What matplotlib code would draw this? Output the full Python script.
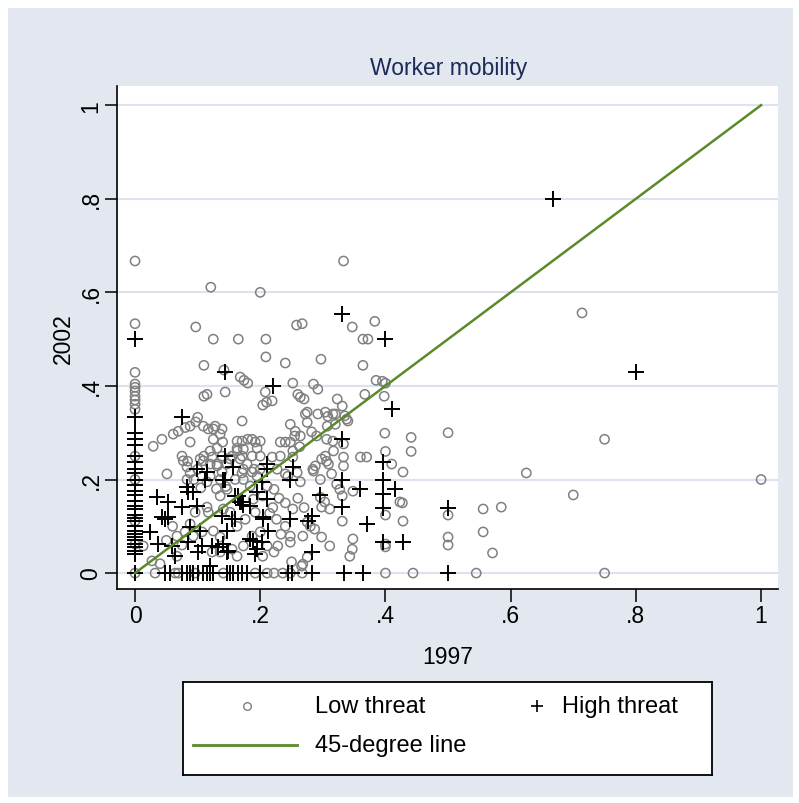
import matplotlib
matplotlib.use("Agg")
import matplotlib.pyplot as plt
from matplotlib.patches import Rectangle

plt.rcParams['font.family'] = ['Liberation Sans', 'DejaVu Sans']

# ---------------- data ----------------
title = "Worker mobility"
x_label = "1997"
y_label = "2002"
tick_values = [0, 0.2, 0.4, 0.6, 0.8, 1.0]
tick_labels = ["0", ".2", ".4", ".6", ".8", "1"]
series_names = ["Low threat", "High threat", "45-degree line"]

# Low threat (share 1997, share 2002)
low_threat = [
    (0, 0.667), (0, 0.533), (0, 0.429), (0, 0.404), (0, 0.397), (0, 0.389), (0, 0.378),
    (0, 0.37), (0, 0.361), (0, 0.35), (0, 0.25), (0, 0.2), (0, 0.111), (0, 0.062), (0, 0.0),
    (0.333, 0.667), (0.121, 0.611), (0.2, 0.6), (0.714, 0.556), (0.347, 0.526), (0.258, 0.53),
    (0.267, 0.533), (0.097, 0.526), (0.125, 0.5), (0.165, 0.5), (0.209, 0.5), (0.364, 0.5),
    (0.372, 0.5), (0.383, 0.538), (0.297, 0.457), (0.24, 0.449), (0.11, 0.444), (0.209, 0.462),
    (0.364, 0.444), (0.385, 0.412), (0.395, 0.41), (0.4, 0.406), (0.168, 0.419), (0.174, 0.412),
    (0.18, 0.406), (0.142, 0.434), (0.252, 0.406), (0.115, 0.382), (0.11, 0.378), (0.264, 0.376),
    (0.27, 0.372), (0.292, 0.393), (0.21, 0.365), (0.204, 0.359), (0.398, 0.378), (0.323, 0.372),
    (0.144, 0.387), (0.219, 0.368), (0.208, 0.387), (0.285, 0.404), (0.367, 0.382),
    (0.399, 0.299), (0.441, 0.29), (0.5, 0.3), (0.4, 0.26), (0.441, 0.26), (0.428, 0.216),
    (0.41, 0.233), (0.427, 0.15), (0.4, 0.124), (0.428, 0.111), (0.4, 0.056), (0.4, 0.0),
    (0.444, 0.0), (0.5, 0.124), (0.5, 0.077), (0.5, 0.06), (0.75, 0.286), (0.625, 0.214),
    (1.0, 0.2), (0.7, 0.167), (0.556, 0.137), (0.585, 0.141), (0.556, 0.088), (0.571, 0.043),
    (0.545, 0.0), (0.75, 0.0), (0.423, 0.152), (0.4, 0.062),
    (0.131, 0.267), (0.139, 0.25), (0.147, 0.233), (0.155, 0.25), (0.163, 0.267), (0.171, 0.25),
    (0.179, 0.233), (0.187, 0.25), (0.195, 0.267), (0.2, 0.25), (0.19, 0.222), (0.171, 0.214),
    (0.16, 0.2), (0.2, 0.222), (0.18, 0.286), (0.14, 0.28), (0.125, 0.286), (0.11, 0.25),
    (0.1, 0.222), (0.094, 0.2), (0.115, 0.195), (0.105, 0.182), (0.13, 0.18), (0.145, 0.185),
    (0.222, 0.045), (0.228, 0.058), (0.25, 0.024), (0.266, 0.015), (0.211, 0.058), (0.204, 0.036),
    (0.2, 0.088), (0.187, 0.079), (0.24, 0.1), (0.233, 0.083),
    (0.013, 0.058), (0.027, 0.026), (0.04, 0.02), (0.067, 0.036), (0.067, 0.079), (0.08, 0.088),
    (0.088, 0.105), (0.093, 0.079), (0.107, 0.088), (0.125, 0.09), (0.136, 0.077), (0.123, 0.045),
    (0.136, 0.045), (0.155, 0.051), (0.163, 0.036), (0.173, 0.058), (0.096, 0.13), (0.115, 0.141),
    (0.117, 0.13), (0.141, 0.137), (0.152, 0.13), (0.163, 0.1), (0.176, 0.115), (0.192, 0.13),
    (0.189, 0.158), (0.204, 0.165), (0.184, 0.186), (0.173, 0.2), (0.195, 0.207), (0.211, 0.186),
    (0.147, 0.179), (0.136, 0.165), (0.051, 0.212), (0.077, 0.24), (0.083, 0.227), (0.109, 0.24),
    (0.12, 0.233), (0.083, 0.2), (0.088, 0.214), (0.12, 0.207), (0.136, 0.2), (0.06, 0.1),
    (0.05, 0.07), (0.075, 0.06),
    (0.032, 0.0), (0.064, 0.0), (0.069, 0.0), (0.096, 0.0), (0.141, 0.0), (0.192, 0.0),
    (0.211, 0.0), (0.222, 0.0), (0.236, 0.0), (0.248, 0.0), (0.267, 0.0),
    (0.029, 0.271), (0.043, 0.286), (0.061, 0.297), (0.069, 0.303), (0.08, 0.311), (0.088, 0.314),
    (0.1, 0.333), (0.097, 0.323), (0.117, 0.308), (0.109, 0.314), (0.128, 0.314), (0.088, 0.28),
    (0.075, 0.25), (0.084, 0.239), (0.104, 0.244), (0.12, 0.261), (0.123, 0.248), (0.131, 0.233),
    (0.171, 0.325), (0.26, 0.382), (0.272, 0.34), (0.248, 0.318), (0.256, 0.303), (0.125, 0.308),
    (0.139, 0.308), (0.136, 0.297), (0.2, 0.282), (0.187, 0.286), (0.192, 0.28), (0.163, 0.282),
    (0.171, 0.282), (0.173, 0.265), (0.163, 0.261), (0.152, 0.244), (0.168, 0.244), (0.232, 0.28),
    (0.24, 0.28), (0.248, 0.28), (0.252, 0.261), (0.131, 0.229), (0.139, 0.216), (0.173, 0.222),
    (0.187, 0.216), (0.227, 0.222), (0.24, 0.212),
    (0.292, 0.34), (0.308, 0.335), (0.32, 0.34), (0.338, 0.329), (0.331, 0.357), (0.316, 0.34),
    (0.304, 0.344), (0.275, 0.344), (0.335, 0.336), (0.34, 0.325), (0.32, 0.318), (0.307, 0.314),
    (0.275, 0.322), (0.255, 0.293), (0.264, 0.293), (0.282, 0.302), (0.29, 0.293), (0.306, 0.286),
    (0.316, 0.282), (0.263, 0.27), (0.232, 0.25), (0.219, 0.248), (0.252, 0.248), (0.298, 0.244),
    (0.306, 0.239), (0.333, 0.276), (0.333, 0.248), (0.333, 0.229), (0.317, 0.261), (0.304, 0.25),
    (0.309, 0.233), (0.288, 0.229), (0.284, 0.222), (0.259, 0.215), (0.264, 0.195), (0.244, 0.207),
    (0.285, 0.218), (0.296, 0.2), (0.314, 0.212), (0.322, 0.19), (0.327, 0.179), (0.331, 0.165),
    (0.348, 0.175), (0.296, 0.162), (0.303, 0.152), (0.311, 0.137), (0.298, 0.141), (0.331, 0.111),
    (0.275, 0.109), (0.28, 0.1), (0.287, 0.094), (0.268, 0.079), (0.298, 0.077), (0.311, 0.058),
    (0.347, 0.051), (0.343, 0.036), (0.275, 0.034), (0.268, 0.019), (0.222, 0.179), (0.252, 0.137),
    (0.226, 0.115), (0.215, 0.128), (0.248, 0.079), (0.248, 0.066), (0.36, 0.248), (0.37, 0.248),
    (0.348, 0.073), (0.24, 0.15), (0.23, 0.16), (0.26, 0.16), (0.27, 0.14), (0.22, 0.14),
]

# High threat (share 1997, share 2002)
high_threat = [
    (0, 0.5), (0, 0.333), (0, 0.3), (0, 0.286), (0, 0.273), (0, 0.25), (0, 0.238), (0, 0.222),
    (0, 0.214), (0, 0.2), (0, 0.188), (0, 0.176), (0, 0.167), (0, 0.154), (0, 0.143), (0, 0.136),
    (0, 0.125), (0, 0.118), (0, 0.111), (0, 0.1), (0, 0.091), (0, 0.083), (0, 0.077), (0, 0.071),
    (0, 0.0625), (0, 0.056), (0, 0.048), (0, 0.04), (0, 0.0),
    (0.667, 0.8), (0.8, 0.429), (0.331, 0.553), (0.4, 0.5), (0.41, 0.35), (0.22, 0.4),
    (0.5, 0.14), (0.5, 0.0), (0.396, 0.237), (0.396, 0.2), (0.415, 0.18), (0.396, 0.168),
    (0.396, 0.14), (0.396, 0.066), (0.428, 0.066), (0.364, 0.0), (0.333, 0.0), (0.075, 0.333),
    (0.143, 0.429), (0.331, 0.286), (0.331, 0.2), (0.331, 0.141), (0.36, 0.18), (0.296, 0.167),
    (0.283, 0.122), (0.37, 0.105), (0.248, 0.115), (0.204, 0.12), (0.211, 0.158), (0.253, 0.226),
    (0.248, 0.2), (0.211, 0.222), (0.283, 0.045), (0.099, 0.222), (0.115, 0.216), (0.112, 0.2),
    (0.144, 0.25), (0.144, 0.2), (0.157, 0.226), (0.083, 0.184), (0.085, 0.173), (0.093, 0.173),
    (0.099, 0.143), (0.075, 0.141), (0.035, 0.162), (0.053, 0.152), (0.043, 0.12), (0.048, 0.115),
    (0.053, 0.12), (0.024, 0.088), (0.037, 0.062), (0.064, 0.036), (0.059, 0.058), (0.088, 0.098),
    (0.104, 0.09), (0.085, 0.066), (0.1, 0.045), (0.12, 0.015), (0.107, 0.058), (0.139, 0.122),
    (0.147, 0.09), (0.16, 0.115), (0.165, 0.165), (0.168, 0.152), (0.173, 0.145), (0.16, 0.165),
    (0.184, 0.143), (0.204, 0.115), (0.195, 0.173), (0.211, 0.233), (0.203, 0.194), (0.133, 0.056),
    (0.147, 0.045), (0.123, 0.058), (0.189, 0.068), (0.203, 0.066), (0.192, 0.041), (0.141, 0.2),
    (0.171, 0.152), (0.155, 0.115), (0.212, 0.09), (0.276, 0.111), (0.184, 0.073), (0.149, 0.047),
    (0.141, 0.062), (0.195, 0.051),
    (0.048, 0.0), (0.056, 0.0), (0.075, 0.0), (0.083, 0.0), (0.088, 0.0), (0.093, 0.0), (0.1, 0.0),
    (0.109, 0.0), (0.115, 0.0), (0.12, 0.0), (0.125, 0.0), (0.147, 0.0), (0.152, 0.0), (0.157, 0.0),
    (0.165, 0.0), (0.171, 0.0), (0.179, 0.0), (0.2, 0.0), (0.244, 0.0), (0.25, 0.0), (0.283, 0.0),
]

line_x = [0.0, 1.0]
line_y = [0.0, 1.0]

# ---------------- styling ----------------
W, H = 799, 804
BG = '#e2e7f0'
GRID = '#dce2ee'
GREEN = '#5b8a2b'
GRAY = '#808080'
TITLE_C = '#1c2b58'

fig = plt.figure(figsize=(W / 100, H / 100), dpi=100)
fig.patch.set_facecolor('white')
fig.add_artist(Rectangle((8 / W, 1 - 798 / H), (793 - 8) / W, (798 - 9) / H,
                         transform=fig.transFigure, facecolor=BG, edgecolor='none', zorder=0))

def fx(px):
    return px / W

def fy(py):
    return 1 - py / H

ax = fig.add_axes([fx(117), fy(590), (778 - 117) / W, (590 - 87) / H])
ax.set_facecolor('white')
ax.set_xlim(-0.0288, 1.027)
ax.set_ylim(-0.034, 1.041)

for s in ['top', 'right']:
    ax.spines[s].set_visible(False)
for s in ['left', 'bottom']:
    ax.spines[s].set_color('black')
    ax.spines[s].set_linewidth(1.2)

ax.set_xticks(tick_values)
ax.set_xticklabels(tick_labels, fontsize=16.5)
ax.set_yticks(tick_values)
ax.set_yticklabels(tick_labels, fontsize=16.5, rotation=90, va='center')
ax.tick_params(direction='out', length=9, width=1.1, color='black', pad=1.5)
ax.yaxis.grid(True, color=GRID, linewidth=1.5)
ax.xaxis.grid(False)
ax.set_axisbelow(True)

lx = [p[0] for p in low_threat]
ly = [p[1] for p in low_threat]
hx = [p[0] for p in high_threat]
hy = [p[1] for p in high_threat]

ax.scatter(lx, ly, marker='o', s=44, facecolors='none', edgecolors=GRAY, linewidths=1.1, zorder=3)
ax.scatter(hx, hy, marker='+', s=120, color='black', linewidths=1.4, zorder=4)
ax.plot(line_x, line_y, color=GREEN, linewidth=1.8, zorder=5)

ax.set_xlabel(x_label, fontsize=16.5, labelpad=13)
ax.set_ylabel(y_label, fontsize=16.5, labelpad=3)
fig.text(fx(449), fy(68), title, fontsize=16.5, color=TITLE_C, ha='center', va='center')

# ---------------- legend ----------------
lg = fig.add_axes([fx(183), fy(776), (712 - 183) / W, (776 - 683) / H])
lg.set_xlim(0, 1)
lg.set_ylim(0, 1)
lg.set_xticks([])
lg.set_yticks([])
lg.set_facecolor('white')
for s in lg.spines.values():
    s.set_color('black')
    s.set_linewidth(1.3)
r1 = (776 - 707) / 93
r2 = (776 - 746) / 93
lg.plot([(247 - 183) / 529], [r1], marker='o', markersize=5.5, markerfacecolor='none',
        markeredgecolor=GRAY, markeredgewidth=1.0, linestyle='none')
lg.text((315 - 183) / 529, r1, series_names[0], fontsize=17, va='center', ha='left')
lg.plot([(537 - 183) / 529], [r1], marker='+', markersize=9, color='black',
        markeredgewidth=1.2, linestyle='none')
lg.text((562 - 183) / 529, r1, series_names[1], fontsize=17, va='center', ha='left')
lg.plot([(193 - 183) / 529, (297 - 183) / 529], [r2, r2], color=GREEN, linewidth=2.0)
lg.text((315 - 183) / 529, r2, series_names[2], fontsize=17, va='center', ha='left')

fig.savefig('out.png', dpi=100, facecolor=fig.get_facecolor())
